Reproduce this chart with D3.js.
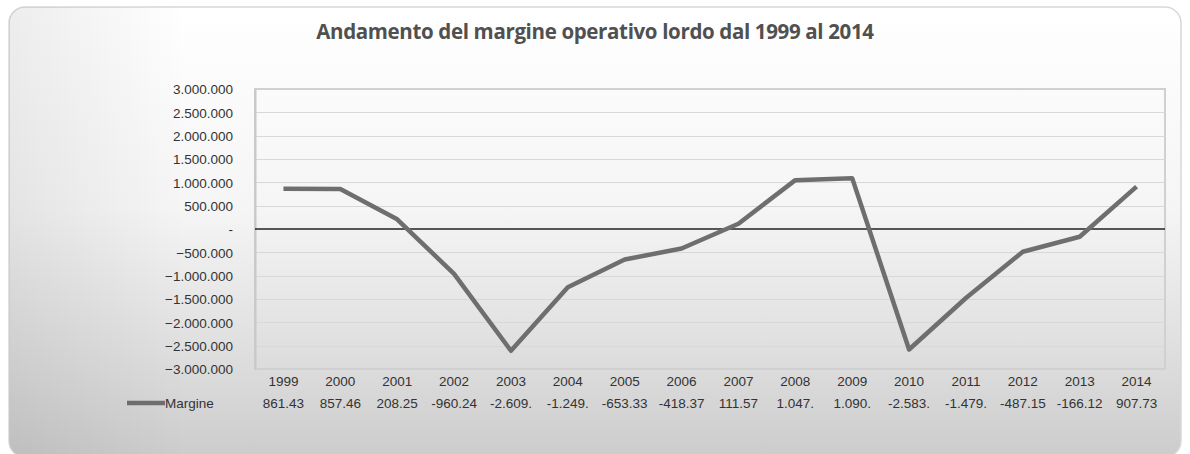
<!DOCTYPE html>
<html>
<head>
<meta charset="utf-8">
<script src="https://cdn.jsdelivr.net/npm/d3@7/dist/d3.min.js"></script>
<style>
  html, body { margin: 0; padding: 0; background: #ffffff; }
  svg { display: block; }
</style>
</head>
<body>
<svg id="chart" width="1190" height="454"></svg>
<script>
// ---- data ----
const years = ["1999","2000","2001","2002","2003","2004","2005","2006","2007","2008","2009","2010","2011","2012","2013","2014"];
const margine = [861430, 857460, 208250, -960240, -2609000, -1249000, -653330, -418370, 111570, 1047000, 1090000, -2583000, -1479000, -487150, -166120, 907730];
const tableLabels = ["861.43","857.46","208.25","-960.24","-2.609.","-1.249.","-653.33","-418.37","111.57","1.047.","1.090.","-2.583.","-1.479.","-487.15","-166.12","907.73"];
const yTicks = [3000000, 2500000, 2000000, 1500000, 1000000, 500000, 0, -500000, -1000000, -1500000, -2000000, -2500000, -3000000];
const seriesName = "Margine";
const title = "Andamento del margine operativo lordo dal 1999 al 2014";

const svg = d3.select("#chart");
const W = 1190, H = 454;
const FONT = "'Liberation Sans', Arial, sans-serif";

// background gradient (scanned page)
const defs = svg.append("defs");
const g1 = defs.append("linearGradient").attr("id","bg").attr("x1",0).attr("y1",0).attr("x2",0).attr("y2",1);
g1.append("stop").attr("offset","0%").attr("stop-color","#ffffff");
g1.append("stop").attr("offset","45%").attr("stop-color","#f5f5f5");
g1.append("stop").attr("offset","80%").attr("stop-color","#dcdcdc");
g1.append("stop").attr("offset","100%").attr("stop-color","#cccccc");
const g2 = defs.append("linearGradient").attr("id","side").attr("x1",0).attr("y1",0).attr("x2",1).attr("y2",0);
g2.append("stop").attr("offset","0%").attr("stop-color","#000").attr("stop-opacity",0.07);
g2.append("stop").attr("offset","15%").attr("stop-color","#000").attr("stop-opacity",0);
g2.append("stop").attr("offset","100%").attr("stop-color","#000").attr("stop-opacity",0);

svg.append("rect").attr("width",W).attr("height",H).attr("fill","#ffffff");
svg.append("rect").attr("x",9).attr("y",7).attr("width",1172).attr("height",450).attr("rx",16)
  .attr("fill","url(#bg)").attr("stroke","#d8d8d8").attr("stroke-width",1.5);
svg.append("rect").attr("x",9).attr("y",7).attr("width",1172).attr("height",450).attr("rx",16)
  .attr("fill","url(#side)");

// title
svg.append("text").attr("x",595).attr("y",39).attr("text-anchor","middle")
  .attr("font-family","'Open Sans', sans-serif").attr("font-weight","bold")
  .attr("font-size",20.5).attr("fill","#505050").attr("letter-spacing","-0.35").text(title);

// scales
const plot = {left:255, right:1165, top:89, bottom:369};
const x = d3.scaleBand().domain(years).range([plot.left, plot.right]);
const y = d3.scaleLinear().domain([-3000000, 3000000]).range([plot.bottom, plot.top]);

// plot area
svg.append("rect").attr("x",plot.left).attr("y",plot.top)
  .attr("width",plot.right-plot.left).attr("height",plot.bottom-plot.top)
  .attr("fill","none").attr("stroke","#d0d0d0").attr("stroke-width",2);

// gridlines
svg.append("g").selectAll("line").data(yTicks.filter(d => d !== 0 && d !== 3000000 && d !== -3000000))
  .join("line")
  .attr("x1",plot.left).attr("x2",plot.right)
  .attr("y1",d => Math.round(y(d))+0.5).attr("y2",d => Math.round(y(d))+0.5)
  .attr("stroke","#d8d8d8").attr("stroke-width",1);

// y axis
const fmt = d => d === 0 ? "-" : d3.format(",")(d).replace(/,/g, ".");
const yAxis = d3.axisLeft(y).tickValues(yTicks).tickSize(0).tickPadding(22).tickFormat(fmt);
const ya = svg.append("g").attr("transform",`translate(${plot.left},0)`).call(yAxis);
ya.select(".domain").attr("stroke","#c8c8c8").attr("stroke-width",2);
ya.selectAll("text").attr("font-family",FONT)
  .attr("font-size",13.5).attr("fill","#333333").attr("dy","0.35em");

// zero line
svg.append("line").attr("x1",plot.left).attr("x2",plot.right)
  .attr("y1",y(0)).attr("y2",y(0)).attr("stroke","#222222").attr("stroke-width",1.3);

// line
const line = d3.line().x((d,i) => x(years[i]) + x.bandwidth()/2).y(d => y(d));
svg.append("path").datum(margine).attr("d",line)
  .attr("fill","none").attr("stroke","#6e6e6e").attr("stroke-width",4.5)
  .attr("stroke-linejoin","round").attr("stroke-linecap","butt");

// category labels (x axis)
const xAxis = d3.axisBottom(x).tickSize(0).tickPadding(0);
const xa = svg.append("g").attr("transform",`translate(0,${plot.bottom+17})`).call(xAxis);
xa.select(".domain").remove();
xa.selectAll("text").attr("font-family",FONT)
  .attr("font-size",13.5).attr("fill","#333333").attr("dy","0");

// data table row
svg.append("g").selectAll("text").data(tableLabels).join("text")
  .attr("x",(d,i) => x(years[i]) + x.bandwidth()/2).attr("y",408)
  .attr("text-anchor","middle")
  .attr("font-family",FONT)
  .attr("font-size",13.5).attr("fill","#333333").text(d => d);

// legend key
svg.append("line").attr("x1",127).attr("x2",165).attr("y1",403).attr("y2",403)
  .attr("stroke","#6e6e6e").attr("stroke-width",4.5);
svg.append("text").attr("x",165).attr("y",408)
  .attr("font-family",FONT)
  .attr("font-size",13.5).attr("fill","#333333").text(seriesName);
</script>
</body>
</html>
